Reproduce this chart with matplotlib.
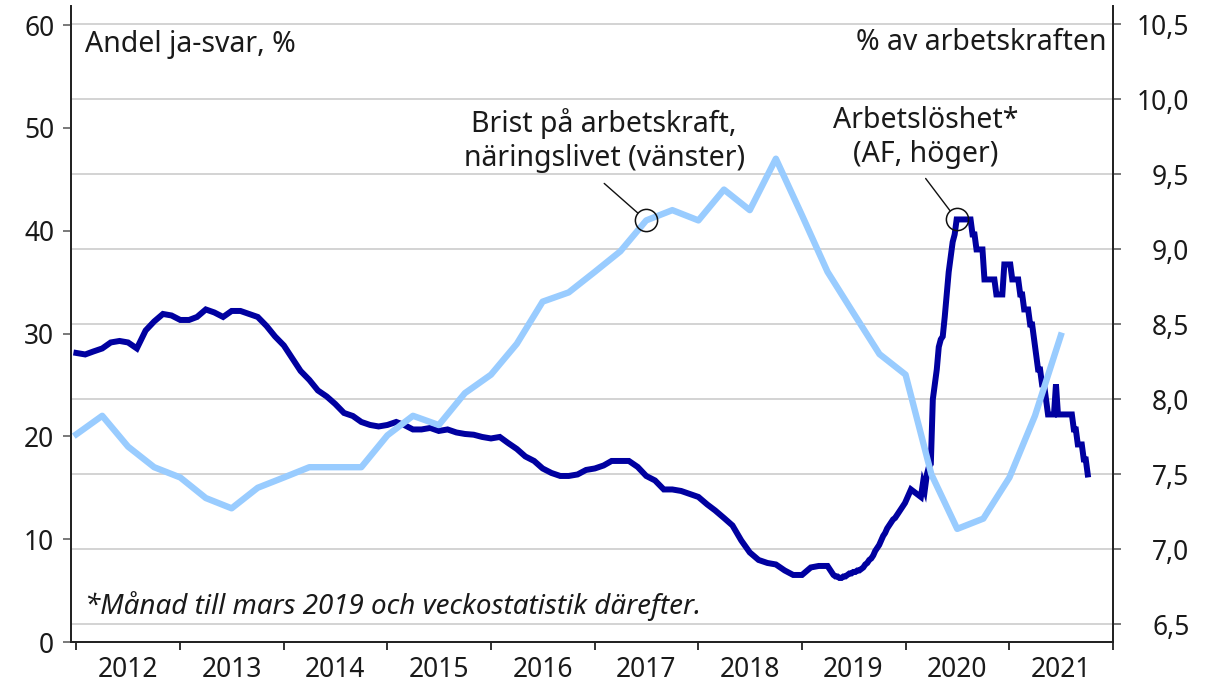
import pandas as pd
import matplotlib
matplotlib.use("Agg")
import matplotlib.pyplot as plt
import matplotlib.dates as mdates
from matplotlib.ticker import FixedLocator, FuncFormatter

plt.rcParams["font.family"] = ["Noto Sans", "DejaVu Sans"]

# brist på arbetskraft, kvartal (vänster axel, %)
brist = [20.2, 22.0, 19.0, 17.0, 16.0, 14.0, 13.0, 15.0, 16.0, 17.0,
         17.0, 17.0, 20.1, 22.0, 21.1, 24.2, 26.0, 29.0, 33.1, 34.0,
         36.0, 38.0, 41.0, 42.0, 41.0, 44.0, 42.0, 47.0, 41.5, 36.0,
         32.0, 28.0, 26.0, 16.3, 11.0, 12.0, 16.0, 22.0, 29.8]

# arbetslöshet, månad jan 2012 - mars 2019 (höger axel)
arbl_manad = [8.31, 8.30, 8.32, 8.34, 8.38, 8.39, 8.38, 8.34, 8.46, 8.52, 8.57, 8.56,
              8.53, 8.53, 8.55, 8.60, 8.58, 8.55, 8.59, 8.59, 8.57, 8.55, 8.49, 8.42,
              8.36, 8.27, 8.19, 8.13, 8.06, 8.02, 7.97, 7.91, 7.89, 7.85, 7.83, 7.82,
              7.83, 7.85, 7.83, 7.80, 7.80, 7.81, 7.79, 7.80, 7.78, 7.77, 7.765, 7.75,
              7.74, 7.75, 7.71, 7.67, 7.62, 7.59, 7.54, 7.51, 7.49, 7.49, 7.50, 7.53,
              7.54, 7.56, 7.59, 7.59, 7.59, 7.55, 7.49, 7.46, 7.40, 7.40, 7.39, 7.37,
              7.35, 7.30, 7.26, 7.21, 7.16, 7.06, 6.98, 6.93, 6.91, 6.90, 6.86, 6.83,
              6.83, 6.88, 6.89]

# arbetslöshet, vecka från april 2019
arbl_vecka = [6.89, 6.87, 6.85, 6.83, 6.82, 6.82, 6.81, 6.81, 6.82, 6.82,
              6.83, 6.84, 6.84, 6.85, 6.85, 6.86, 6.86, 6.87, 6.88, 6.90,
              6.91, 6.93, 6.94, 6.96, 6.99, 7.01, 7.03, 7.06, 7.09, 7.11,
              7.14, 7.16, 7.18, 7.20, 7.21, 7.23, 7.25, 7.27, 7.29, 7.31,
              7.34, 7.37, 7.40, 7.39, 7.38, 7.37, 7.36, 7.35, 7.44, 7.40,
              7.50, 7.55, 7.57, 8.00, 8.10, 8.20, 8.35, 8.40, 8.42, 8.55,
              8.70, 8.85, 8.95, 9.05, 9.10, 9.20, 9.20, 9.20, 9.20, 9.20,
              9.20, 9.20, 9.20, 9.10, 9.10, 9.00, 9.00, 9.00, 9.00, 8.80,
              8.80, 8.80, 8.80, 8.80, 8.80, 8.70, 8.70, 8.70, 8.70, 8.90,
              8.90, 8.90, 8.90, 8.80, 8.80, 8.80, 8.80, 8.70, 8.70, 8.60,
              8.60, 8.60, 8.50, 8.50, 8.40, 8.30, 8.20, 8.20, 8.10, 8.10,
              8.00, 7.90, 7.90, 7.90, 7.90, 8.10, 7.90, 7.90, 7.90, 7.90,
              7.90, 7.90, 7.90, 7.90, 7.80, 7.80, 7.70, 7.70, 7.70, 7.60,
              7.60, 7.50]

left_ticks = [0, 10, 20, 30, 40, 50, 60]
right_ticks = [6.5, 7.0, 7.5, 8.0, 8.5, 9.0, 9.5, 10.0, 10.5]

brist_dates = pd.date_range("2012-01-01", periods=len(brist), freq="QS")
manad_dates = pd.date_range("2012-01-01", periods=len(arbl_manad), freq="MS")
vecka_dates = pd.date_range("2019-04-01", periods=len(arbl_vecka), freq="7D")
arbl_dates = manad_dates.append(vecka_dates)
arbl = arbl_manad + arbl_vecka

DARK = "#0000a0"
LIGHT = "#99ccff"
TXT = "#1a1a1a"

fig = plt.figure(figsize=(12.16, 6.91), dpi=100)
ax = fig.add_axes([0.0584, 0.0709, 0.8569, 0.9204])
ax2 = ax.twinx()
ax.set_zorder(ax2.get_zorder() + 1)
ax.patch.set_visible(False)

ax2.plot(arbl_dates, arbl, color=DARK, lw=4.3, solid_joinstyle="miter", zorder=3)
ax.plot(brist_dates, brist, color=LIGHT, lw=4.6, zorder=3)

ax.set_ylim(0, 61.85)
ax2.set_ylim(6.383, 10.623)
ax.set_xlim(pd.Timestamp("2011-12-13"), pd.Timestamp("2022-01-01"))

# axlar och tickar
for a in (ax, ax2):
    a.spines["top"].set_visible(False)
    for s in ("left", "right", "bottom"):
        a.spines[s].set_color("#222222")
        a.spines[s].set_linewidth(1.3)

ax.yaxis.set_major_locator(FixedLocator(left_ticks))
ax.tick_params(axis="y", length=6, width=1.1, color="#555555", labelsize=19,
               labelcolor=TXT, pad=6)
ax2.yaxis.set_major_locator(FixedLocator(right_ticks))
ax2.yaxis.set_major_formatter(FuncFormatter(lambda v, p: f"{v:.1f}".replace(".", ",")))
ax2.tick_params(axis="y", length=6, width=1.1, color="#555555", labelsize=19,
                labelcolor=TXT, pad=49)
for lbl in ax2.get_yticklabels():
    lbl.set_horizontalalignment("right")
ax2.grid(axis="y", color="#c8c8c8", lw=1.1)
ax2.set_axisbelow(True)

ax.xaxis.set_major_locator(mdates.YearLocator())
ax.xaxis.set_major_formatter(plt.NullFormatter())
ax.xaxis.set_minor_locator(mdates.MonthLocator(bymonth=7, bymonthday=1))
ax.xaxis.set_minor_formatter(mdates.DateFormatter("%Y"))
ax.tick_params(axis="x", which="major", length=6, width=1.3, color="#222222")
ax.tick_params(axis="x", which="minor", length=0, labelsize=19, labelcolor=TXT, pad=10)

# texter
ax.text(0.0134, 0.939, "Andel ja-svar, %", transform=ax.transAxes, fontsize=20.5,
        color=TXT, ha="left", va="center")
ax.text(0.9942, 0.942, "% av arbetskraften", transform=ax.transAxes, fontsize=20.5,
        color=TXT, ha="right", va="center")
ax.text(0.0134, 0.0566, "*Månad till mars 2019 och veckostatistik därefter.",
        transform=ax.transAxes, fontsize=20, style="italic", color=TXT,
        ha="left", va="center")

# annoteringar
bx, by = brist_dates[22], brist[22]
ax.plot([bx], [by], "o", ms=16, mfc="none", mec="#111111", mew=1.1, zorder=5)
ax.annotate("", xy=(bx, by), xytext=(-42, 37), textcoords="offset pixels",
            arrowprops=dict(arrowstyle="-", color="#111111", lw=1.0,
                            shrinkA=0, shrinkB=8))
ax.annotate("Brist på arbetskraft,\nnäringslivet (vänster)", xy=(bx, by),
            xytext=(-42, 80), textcoords="offset pixels", ha="center",
            va="center", fontsize=20.5, color=TXT, linespacing=1.2)

ux, uy = vecka_dates[65], arbl_vecka[65]
ax2.plot([ux], [uy], "o", ms=16, mfc="none", mec="#111111", mew=1.1, zorder=5)
ax2.annotate("", xy=(ux, uy), xytext=(-31, 41), textcoords="offset pixels",
             arrowprops=dict(arrowstyle="-", color="#111111", lw=1.0,
                             shrinkA=0, shrinkB=8))
ax2.annotate("Arbetslöshet*\n(AF, höger)", xy=(ux, uy),
             xytext=(-31, 82), textcoords="offset pixels", ha="center",
             va="center", fontsize=20.5, color=TXT, linespacing=1.2)

fig.savefig("out.png", dpi=100)
